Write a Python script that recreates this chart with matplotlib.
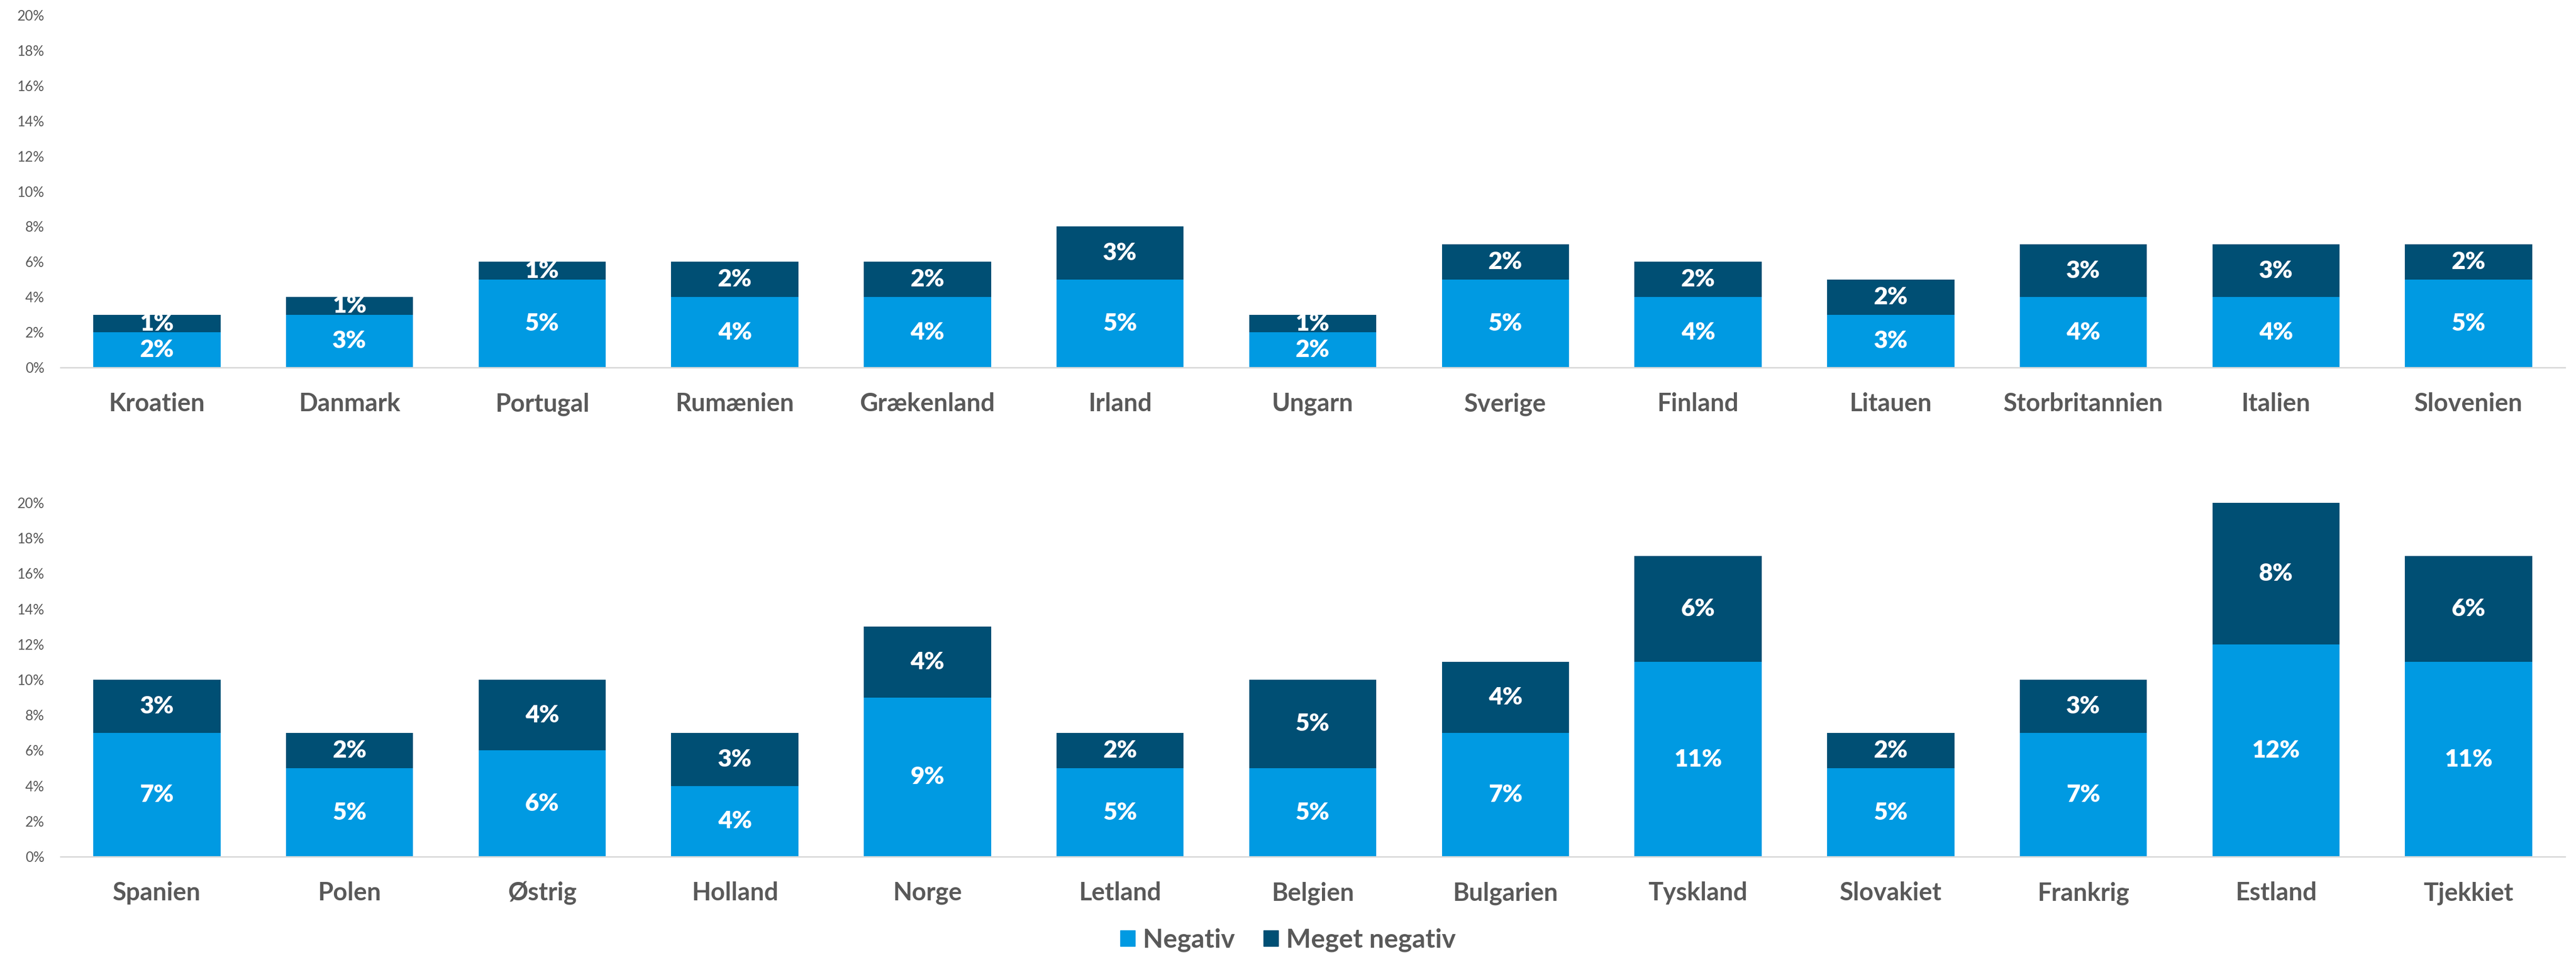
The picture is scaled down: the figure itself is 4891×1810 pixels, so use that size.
import matplotlib
matplotlib.use("Agg")
import matplotlib.pyplot as plt
import numpy as np
from matplotlib.patches import Patch

plt.rcParams['font.family'] = ['Lato', 'DejaVu Sans']

# data, i procent
lande_top = ["Kroatien", "Danmark", "Portugal", "Rumænien", "Grækenland", "Irland", "Ungarn",
             "Sverige", "Finland", "Litauen", "Storbritannien", "Italien", "Slovenien"]
negativ_top = [2, 3, 5, 4, 4, 5, 2, 5, 4, 3, 4, 4, 5]
meget_top = [1, 1, 1, 2, 2, 3, 1, 2, 2, 2, 3, 3, 2]

lande_bund = ["Spanien", "Polen", "Østrig", "Holland", "Norge", "Letland", "Belgien",
              "Bulgarien", "Tyskland", "Slovakiet", "Frankrig", "Estland", "Tjekkiet"]
negativ_bund = [7, 5, 6, 4, 9, 5, 5, 7, 11, 5, 7, 12, 11]
meget_bund = [3, 2, 4, 3, 4, 2, 5, 4, 6, 2, 3, 8, 6]

serier = ["Negativ", "Meget negativ"]
farver = ["#009AE2", "#004F74"]
tekst_farve = "#595959"

W, H = 4891, 1810
fig = plt.figure(figsize=(W / 100, H / 100), dpi=100)

def panel(rect, lande, neg, meget):
    ax = fig.add_axes(rect)
    x = np.arange(len(lande))
    b1 = ax.bar(x, neg, width=0.66, color=farver[0], zorder=2)
    b2 = ax.bar(x, meget, width=0.66, bottom=neg, color=farver[1], zorder=2)
    for bars, vals in ((b1, neg), (b2, meget)):
        ax.bar_label(bars, labels=[f"{v}%" for v in vals], label_type="center",
                     color="white", fontsize=33, fontweight="heavy")
    ax.set_xlim(-0.5, len(lande) - 0.5)
    ax.set_ylim(0, 20)
    ax.set_yticks(range(0, 21, 2))
    ax.set_yticklabels([f"{v}%" for v in range(0, 21, 2)], fontsize=19, color=tekst_farve)
    ax.set_xticks(x)
    ax.set_xticklabels(lande, fontsize=34, fontweight="bold", color=tekst_farve)
    ax.tick_params(axis="both", length=0)
    ax.tick_params(axis="x", pad=34)
    ax.tick_params(axis="y", pad=22)
    for s in ("top", "right", "left"):
        ax.spines[s].set_visible(False)
    ax.spines["bottom"].set_color("#D9D9D9")
    ax.spines["bottom"].set_linewidth(2)
    return ax

left = 115 / W
width = (4870 - 115) / W
panel([left, 1 - 698 / H, width, (698 - 29) / H], lande_top, negativ_top, meget_top)
panel([left, 1 - 1627 / H, width, (1627 - 955) / H], lande_bund, negativ_bund, meget_bund)

handles = [Patch(color=c, label=s) for c, s in zip(farver, serier)]
leg = fig.legend(handles=handles, loc="center", bbox_to_anchor=(0.5, 1 - 1785 / H), ncol=2,
                 frameon=False, fontsize=36, handlelength=0.55, handleheight=0.55,
                 handletextpad=0.3, columnspacing=1.1)
for t in leg.get_texts():
    t.set_color(tekst_farve)
    t.set_fontweight("bold")

fig.savefig("out.png", dpi=100)
